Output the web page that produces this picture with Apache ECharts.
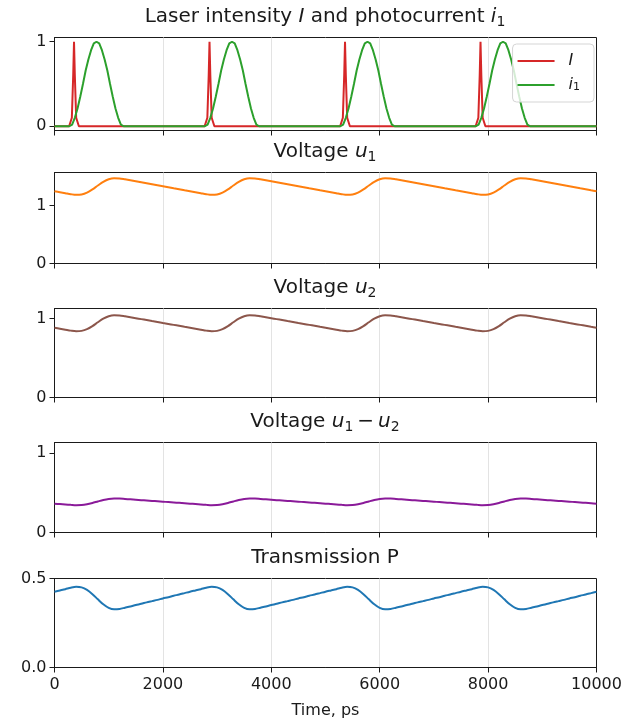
<!DOCTYPE html>
<html lang="en">
    <head>
        <meta charset="UTF-8" />
        <script type="text/javascript" src="https://cdn.jsdelivr.net/npm/echarts/dist/echarts.min.js"></script>
        <title>Laser / photocurrent / voltages</title>
        <style type="text/css">
            html, body { margin: 0; padding: 0; background: #fff; }
            #main { width: 630px; height: 721px; }
        </style>
    </head>

    <body>
        <div id="main"></div>
        <script type="text/javascript">
            // common time grid for the voltage and transmission curves (ps)
            const time = [
                0, 100, 200, 300, 400, 500, 600, 700, 800, 900, 1000, 1100, 1200, 1300, 1400, 1500, 1600, 1700, 1800, 1900, 2000, 2100, 2200, 2300, 2400,
                2500, 2600, 2700, 2800, 2900, 3000, 3100, 3200, 3300, 3400, 3500, 3600, 3700, 3800, 3900, 4000, 4100, 4200, 4300, 4400, 4500, 4600, 4700, 4800, 4900,
                5000, 5100, 5200, 5300, 5400, 5500, 5600, 5700, 5800, 5900, 6000, 6100, 6200, 6300, 6400, 6500, 6600, 6700, 6800, 6900, 7000, 7100, 7200, 7300, 7400,
                7500, 7600, 7700, 7800, 7900, 8000, 8100, 8200, 8300, 8400, 8500, 8600, 8700, 8800, 8900, 9000, 9100, 9200, 9300, 9400, 9500, 9600, 9700, 9800, 9900,
                10000
            ];

            const u1 = [
                1.247, 1.230, 1.213, 1.196, 1.184, 1.191, 1.223, 1.278, 1.345, 1.408, 1.453, 1.472, 1.468, 1.452, 1.435, 1.418, 1.401, 1.384, 1.367, 1.350, 1.333, 1.316, 1.299, 1.282, 1.264,
                1.247, 1.230, 1.213, 1.196, 1.184, 1.191, 1.223, 1.278, 1.345, 1.408, 1.453, 1.472, 1.468, 1.452, 1.435, 1.418, 1.401, 1.384, 1.367, 1.350, 1.333, 1.316, 1.299, 1.282, 1.264,
                1.247, 1.230, 1.213, 1.196, 1.184, 1.191, 1.223, 1.278, 1.345, 1.408, 1.453, 1.472, 1.468, 1.452, 1.435, 1.418, 1.401, 1.384, 1.367, 1.350, 1.333, 1.316, 1.299, 1.282, 1.264,
                1.247, 1.230, 1.213, 1.196, 1.184, 1.191, 1.223, 1.278, 1.345, 1.408, 1.453, 1.472, 1.468, 1.452, 1.435, 1.418, 1.401, 1.384, 1.367, 1.350, 1.333, 1.316, 1.299, 1.282, 1.264,
                1.247
            ];

            const u2 = [
                0.885, 0.873, 0.861, 0.849, 0.841, 0.846, 0.868, 0.907, 0.955, 1.000, 1.032, 1.045, 1.042, 1.031, 1.019, 1.007, 0.995, 0.983, 0.971, 0.959, 0.946, 0.934, 0.922, 0.910, 0.897,
                0.885, 0.873, 0.861, 0.849, 0.841, 0.846, 0.868, 0.907, 0.955, 1.000, 1.032, 1.045, 1.042, 1.031, 1.019, 1.007, 0.995, 0.983, 0.971, 0.959, 0.946, 0.934, 0.922, 0.910, 0.897,
                0.885, 0.873, 0.861, 0.849, 0.841, 0.846, 0.868, 0.907, 0.955, 1.000, 1.032, 1.045, 1.042, 1.031, 1.019, 1.007, 0.995, 0.983, 0.971, 0.959, 0.946, 0.934, 0.922, 0.910, 0.897,
                0.885, 0.873, 0.861, 0.849, 0.841, 0.846, 0.868, 0.907, 0.955, 1.000, 1.032, 1.045, 1.042, 1.031, 1.019, 1.007, 0.995, 0.983, 0.971, 0.959, 0.946, 0.934, 0.922, 0.910, 0.897,
                0.885
            ];

            const uDiff = [
                0.362, 0.357, 0.352, 0.347, 0.343, 0.345, 0.355, 0.371, 0.390, 0.408, 0.421, 0.427, 0.426, 0.421, 0.416, 0.411, 0.406, 0.401, 0.396, 0.392, 0.387, 0.382, 0.377, 0.372, 0.367,
                0.362, 0.357, 0.352, 0.347, 0.343, 0.345, 0.355, 0.371, 0.390, 0.408, 0.421, 0.427, 0.426, 0.421, 0.416, 0.411, 0.406, 0.401, 0.396, 0.392, 0.387, 0.382, 0.377, 0.372, 0.367,
                0.362, 0.357, 0.352, 0.347, 0.343, 0.345, 0.355, 0.371, 0.390, 0.408, 0.421, 0.427, 0.426, 0.421, 0.416, 0.411, 0.406, 0.401, 0.396, 0.392, 0.387, 0.382, 0.377, 0.372, 0.367,
                0.362, 0.357, 0.352, 0.347, 0.343, 0.345, 0.355, 0.371, 0.390, 0.408, 0.421, 0.427, 0.426, 0.421, 0.416, 0.411, 0.406, 0.401, 0.396, 0.392, 0.387, 0.382, 0.377, 0.372, 0.367,
                0.362
            ];

            const transmission = [
                0.426, 0.433, 0.440, 0.448, 0.453, 0.450, 0.436, 0.412, 0.383, 0.355, 0.335, 0.327, 0.329, 0.336, 0.343, 0.351, 0.358, 0.366, 0.373, 0.380, 0.388, 0.395, 0.403, 0.410, 0.418,
                0.426, 0.433, 0.440, 0.448, 0.453, 0.450, 0.436, 0.412, 0.383, 0.355, 0.335, 0.327, 0.329, 0.336, 0.343, 0.351, 0.358, 0.366, 0.373, 0.380, 0.388, 0.395, 0.403, 0.410, 0.418,
                0.426, 0.433, 0.440, 0.448, 0.453, 0.450, 0.436, 0.412, 0.383, 0.355, 0.335, 0.327, 0.329, 0.336, 0.343, 0.351, 0.358, 0.366, 0.373, 0.380, 0.388, 0.395, 0.403, 0.410, 0.418,
                0.426, 0.433, 0.440, 0.448, 0.453, 0.450, 0.436, 0.412, 0.383, 0.355, 0.335, 0.327, 0.329, 0.336, 0.343, 0.351, 0.358, 0.366, 0.373, 0.380, 0.388, 0.395, 0.403, 0.410, 0.418,
                0.426
            ];

            // laser pulses (finer, uneven sampling)
            const laserTime = [
                0, 270, 320, 345, 360, 375, 400, 450,
                2770, 2820, 2845, 2860, 2875, 2900, 2950,
                5270, 5320, 5345, 5360, 5375, 5400, 5450,
                7770, 7820, 7845, 7860, 7875, 7900, 7950,
                10000
            ];
            const laserI = [
                0, 0, 0.1, 0.6, 1, 0.6, 0.1, 0,
                0, 0.1, 0.6, 1, 0.6, 0.1, 0,
                0, 0.1, 0.6, 1, 0.6, 0.1, 0,
                0, 0.1, 0.6, 1, 0.6, 0.1, 0,
                0
            ];

            // photocurrent pulses
            const currentTime = [
                0,
                275, 325, 375, 425, 475, 525, 575, 625, 675, 725, 775, 825, 875, 925, 975, 1025, 1075, 1125, 1175, 1225, 1275,
                2775, 2825, 2875, 2925, 2975, 3025, 3075, 3125, 3175, 3225, 3275, 3325, 3375, 3425, 3475, 3525, 3575, 3625, 3675, 3725, 3775,
                5275, 5325, 5375, 5425, 5475, 5525, 5575, 5625, 5675, 5725, 5775, 5825, 5875, 5925, 5975, 6025, 6075, 6125, 6175, 6225, 6275,
                7775, 7825, 7875, 7925, 7975, 8025, 8075, 8125, 8175, 8225, 8275, 8325, 8375, 8425, 8475, 8525, 8575, 8625, 8675, 8725, 8775,
                10000
            ];
            const current = [
                0,
                0, 0.02, 0.1, 0.21, 0.35, 0.5, 0.66, 0.79, 0.9, 0.98, 1, 0.98, 0.9, 0.79, 0.66, 0.5, 0.35, 0.21, 0.1, 0.02, 0,
                0, 0.02, 0.1, 0.21, 0.35, 0.5, 0.66, 0.79, 0.9, 0.98, 1, 0.98, 0.9, 0.79, 0.66, 0.5, 0.35, 0.21, 0.1, 0.02, 0,
                0, 0.02, 0.1, 0.21, 0.35, 0.5, 0.66, 0.79, 0.9, 0.98, 1, 0.98, 0.9, 0.79, 0.66, 0.5, 0.35, 0.21, 0.1, 0.02, 0,
                0, 0.02, 0.1, 0.21, 0.35, 0.5, 0.66, 0.79, 0.9, 0.98, 1, 0.98, 0.9, 0.79, 0.66, 0.5, 0.35, 0.21, 0.1, 0.02, 0,
                0
            ];

            const xTicks = [0, 2000, 4000, 6000, 8000, 10000];
            const yTicks = [[0, 1], [0, 1], [0, 1], [0, 1], [0, 0.5]];
            const yRanges = [[-0.05, 1.05], [0, 1.57], [0, 1.13], [0, 1.13], [0, 0.5]];
            const titles = [
                "Laser intensity {it|I} and photocurrent {it|i}{sub|1}",
                "Voltage {it|u}{sub|1}",
                "Voltage {it|u}{sub|2}",
                "Voltage {it|u}{sub|1}{op|\u2009\u2212\u2009}{it|u}{sub|2}",
                "Transmission P",
            ];

            const font = "DejaVu Sans";
            const ink = "#1a1a1a";
            const richText = {
                it: { fontFamily: font, fontStyle: "italic", fontSize: 20, color: ink, lineHeight: 24 },
                sub: { fontFamily: font, fontSize: 14, color: ink, verticalAlign: "bottom", lineHeight: 14 },
                op: { fontFamily: font, fontSize: 20, color: ink, lineHeight: 24 },
            };

            // half-pixel offsets keep the 1px frame crisp
            const panels = [
                { top: 37.5, height: 93 },
                { top: 172.5, height: 91 },
                { top: 308.5, height: 89 },
                { top: 442.5, height: 90 },
                { top: 578.5, height: 89 },
            ];

            const pairs = (xs, ys) => xs.map((x, i) => [x, ys[i]]);

            let chart = echarts.init(document.getElementById("main"));

            let option = {
                animation: false,
                backgroundColor: "#fff",
                title: titles.map((t, i) => ({
                    text: t,
                    left: 325,
                    top: Math.floor(panels[i].top) - 32,
                    textAlign: "center",
                    padding: 0,
                    textStyle: {
                        fontFamily: font,
                        fontSize: 20,
                        fontWeight: "normal",
                        color: ink,
                        lineHeight: 24,
                        rich: richText,
                    },
                })),
                legend: {
                    data: ["I", "i1"],
                    orient: "vertical",
                    right: 36,
                    top: 44,
                    padding: [9, 14, 9, 5],
                    itemGap: 8,
                    itemWidth: 37,
                    itemHeight: 2,
                    icon: "rect",
                    backgroundColor: "rgba(255,255,255,0.8)",
                    borderColor: "#d5d5d5",
                    borderWidth: 1,
                    borderRadius: 4,
                    formatter: (name) => (name === "I" ? "{it|I}" : "{it|i}{sub|1}"),
                    textStyle: {
                        fontFamily: font,
                        fontSize: 16,
                        color: ink,
                        rich: {
                            it: { fontFamily: font, fontStyle: "italic", fontSize: 16, color: ink, padding: [0, 0, 0, 9] },
                            sub: { fontFamily: font, fontSize: 11, color: ink, verticalAlign: "bottom", lineHeight: 11 },
                        },
                    },
                },
                grid: panels.map((p) => ({
                    left: 54.5,
                    right: 33.5,
                    top: p.top,
                    height: p.height,
                    show: true,
                    borderColor: ink,
                    borderWidth: 1,
                    backgroundColor: "transparent",
                })),
                xAxis: panels.map((p, i) => ({
                    type: "value",
                    gridIndex: i,
                    min: 0,
                    max: 10000,
                    interval: 2000,
                    name: i === 4 ? "Time, ps" : "",
                    nameLocation: "middle",
                    nameGap: 35,
                    nameTextStyle: { fontFamily: font, fontSize: 16, color: ink },
                    axisLine: { show: true, onZero: false, lineStyle: { color: ink, width: 1 } },
                    axisTick: { show: true, length: 5, customValues: xTicks, lineStyle: { color: ink } },
                    axisLabel: {
                        show: i === 4,
                        customValues: xTicks,
                        fontFamily: font,
                        fontSize: 16,
                        color: ink,
                        margin: 9,
                        formatter: (v) => String(v),
                    },
                    splitLine: {
                        show: true,
                        showMinLine: false,
                        showMaxLine: false,
                        lineStyle: { color: "#e3e3e3", width: 1 },
                    },
                })),
                yAxis: panels.map((p, i) => ({
                    type: "value",
                    gridIndex: i,
                    min: yRanges[i][0],
                    max: yRanges[i][1],
                    axisLine: { show: true, onZero: false, lineStyle: { color: ink, width: 1 } },
                    axisTick: { show: true, length: 5, customValues: yTicks[i], lineStyle: { color: ink } },
                    axisLabel: {
                        customValues: yTicks[i],
                        fontFamily: font,
                        fontSize: 16,
                        color: ink,
                        margin: 8,
                        formatter: (v) => (i === 4 ? v.toFixed(1) : String(v)),
                    },
                    splitLine: {
                        show: true,
                        showMinLine: false,
                        showMaxLine: false,
                        lineStyle: { color: "#e3e3e3", width: 1 },
                    },
                })),
                series: [
                    {
                        name: "I",
                        type: "line",
                        xAxisIndex: 0,
                        yAxisIndex: 0,
                        showSymbol: false,
                        color: "#d62728",
                        lineStyle: { width: 2 },
                        data: pairs(laserTime, laserI),
                    },
                    {
                        name: "i1",
                        type: "line",
                        xAxisIndex: 0,
                        yAxisIndex: 0,
                        showSymbol: false,
                        color: "#2ca02c",
                        lineStyle: { width: 2 },
                        data: pairs(currentTime, current),
                    },
                    {
                        name: "u1",
                        type: "line",
                        xAxisIndex: 1,
                        yAxisIndex: 1,
                        showSymbol: false,
                        smooth: 0.3,
                        color: "#ff7f0e",
                        lineStyle: { width: 2 },
                        data: pairs(time, u1),
                    },
                    {
                        name: "u2",
                        type: "line",
                        xAxisIndex: 2,
                        yAxisIndex: 2,
                        showSymbol: false,
                        smooth: 0.3,
                        color: "#8c564b",
                        lineStyle: { width: 2 },
                        data: pairs(time, u2),
                    },
                    {
                        name: "u1-u2",
                        type: "line",
                        xAxisIndex: 3,
                        yAxisIndex: 3,
                        showSymbol: false,
                        smooth: 0.3,
                        color: "#8a1a99",
                        lineStyle: { width: 2 },
                        data: pairs(time, uDiff),
                    },
                    {
                        name: "P",
                        type: "line",
                        xAxisIndex: 4,
                        yAxisIndex: 4,
                        showSymbol: false,
                        smooth: 0.3,
                        color: "#1f77b4",
                        lineStyle: { width: 2 },
                        data: pairs(time, transmission),
                    },
                ],
            };
            chart.setOption(option);
        </script>
    </body>
</html>
